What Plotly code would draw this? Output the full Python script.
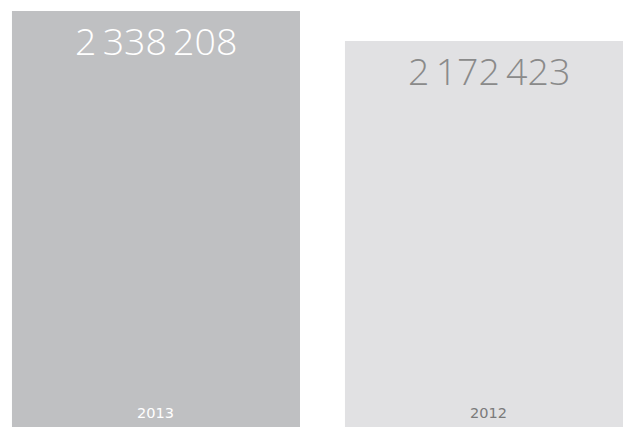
import plotly.graph_objects as go

years = ["2013", "2012"]
values = [2338208, 2172423]
bar_colors = ["#bfc0c2", "#e1e1e3"]
value_colors = ["#ffffff", "#8a8a8a"]
label_colors = ["#ffffff", "#7a7a7a"]

def fmt(v):
    return f"{v:,}".replace(",", "\u2009")

fig = go.Figure()
fig.add_trace(go.Bar(
    x=years, y=values, width=0.865,
    marker=dict(color=bar_colors, line=dict(width=0)),
    hoverinfo="skip",
))

annotations = []
for i, (yr, v, vc, lc) in enumerate(zip(years, values, value_colors, label_colors)):
    annotations.append(dict(x=i, y=v, xref="x", yref="y", text=fmt(v), showarrow=False,
                            yanchor="top", yshift=-2,
                            font=dict(family="Open Sans", size=37.5, color=vc, weight=300)))
    annotations.append(dict(x=i, y=0, xref="x", yref="y", text=yr, showarrow=False,
                            yanchor="bottom", yshift=12,
                            font=dict(family="DejaVu Sans", size=14.5, color=lc)))

fig.update_layout(
    width=631, height=427,
    margin=dict(l=0, r=0, t=0, b=0),
    paper_bgcolor="white", plot_bgcolor="white",
    showlegend=False,
    annotations=annotations,
    xaxis=dict(type="category", range=[-0.4444, 1.4505], visible=False),
    yaxis=dict(range=[0, 2354600], visible=False),
)
fig.write_html("out.html")
